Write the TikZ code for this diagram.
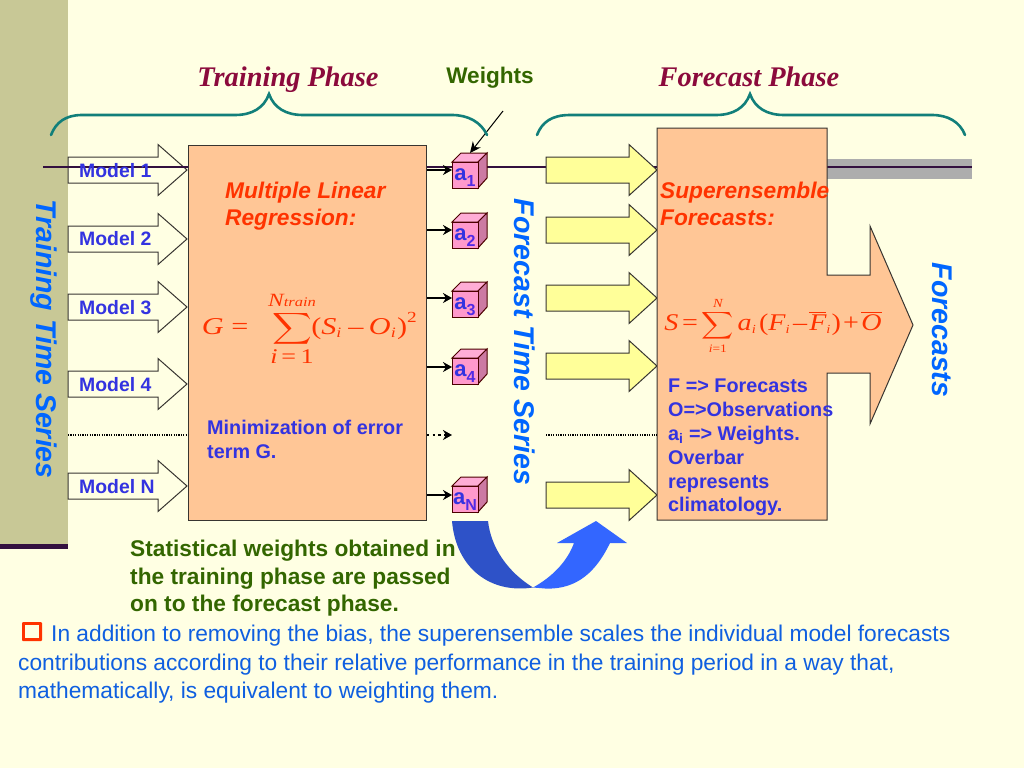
\documentclass[tikz,border=0pt]{standalone}
\usepackage{amsmath}
\usepackage{fontspec}
\setmainfont{Liberation Sans}
\newfontfamily\phasefont{Liberation Serif}
\usetikzlibrary{arrows.meta}
\definecolor{bgc}{HTML}{FFFFE3}
\definecolor{bandc}{HTML}{C8C896}
\definecolor{darkp}{HTML}{33103F}
\definecolor{teal2}{HTML}{127F7A}
\definecolor{peach}{HTML}{FFC696}
\definecolor{yell}{HTML}{FFFF99}
\definecolor{redo}{HTML}{FF3300}
\definecolor{indigo2}{HTML}{3333E0}
\definecolor{sky2}{HTML}{0066FF}
\definecolor{body2}{HTML}{0F5FE0}
\definecolor{green2}{HTML}{336600}
\definecolor{wine}{HTML}{8B0A3C}
\definecolor{pinkf}{HTML}{FF99CC}
\definecolor{pinkt}{HTML}{FFADD6}
\definecolor{pinks}{HTML}{CC7AA3}
\definecolor{blued}{HTML}{2E52C8}
\definecolor{bluel}{HTML}{3366FF}
\tikzset{
  x=1pt,y=-1pt,
  blockline/.style={draw=black!90!yellow,line width=1pt,line join=miter},
  sidetitle/.style={font=\fontsize{28.5}{32}\selectfont\bfseries\itshape,text=sky2,rotate=-90,inner sep=0},
  phase/.style={font=\fontsize{28.4}{32}\phasefont\bfseries\itshape,text=wine,inner sep=0,anchor=base},
  modellabel/.style={font=\fontsize{19.4}{22}\selectfont\bfseries,text=indigo2,anchor=west,inner sep=0},
  regtitle/.style={font=\fontsize{22.7}{27}\selectfont\bfseries\itshape,text=redo,anchor=north west,align=left,inner sep=0},
  bluenote/.style={font=\fontsize{19.8}{23.8}\selectfont\bfseries,text=indigo2,anchor=north west,align=left,inner sep=0},
  greennote/.style={font=\fontsize{22.7}{27.5}\selectfont\bfseries,text=green2,anchor=north west,align=left,inner sep=0},
  bodynote/.style={font=\fontsize{22.75}{28.6}\selectfont,text=body2,anchor=north west,align=left,inner sep=0},
  brace/.style={draw=teal2,line width=2.6pt,line cap=round},
  thickar/.style={draw=black,line width=2.2pt,-{Stealth[length=9pt,width=10pt]}},
  dotline/.style={draw=black,line width=1.2pt,dash pattern=on 1.2pt off 1.2pt},
  dotar/.style={draw=black,line width=2.2pt,dash pattern=on 2.2pt off 3.5pt,-{Stealth[length=9pt,width=10pt]}},
  cubefront/.style={draw=black!70!red,line width=1pt,fill=pinkf,minimum width=26pt,minimum height=26pt,inner sep=0,
    font=\fontsize{22}{24}\selectfont\bfseries,text=indigo2},
}
% block arrow: tail x, head-base x, tip x, centre y, fill
\newcommand{\blockarrow}[5]{%
  \draw[blockline,fill=#5] (#1,#4-13) -- (#2,#4-13) -- (#2,#4-25.5) -- (#3,#4) -- (#2,#4+25.5) -- (#2,#4+13) -- (#1,#4+13) -- cycle;}
% cube: name, top y, label
\newcommand{\cubebox}[3]{%
  \draw[draw=black!70!red,line width=1pt,fill=pinkt] (452,#2+9) -- (461,#2) -- (487,#2) -- (478,#2+9) -- cycle;
  \draw[draw=black!70!red,line width=1pt,fill=pinks] (478,#2+9) -- (487,#2) -- (487,#2+25) -- (478,#2+35) -- cycle;
  \node[cubefront] (#1) at (465,#2+22) {#3};}
\newcommand{\subl}[1]{\raisebox{-6pt}[0pt][0pt]{\fontsize{16}{16}\selectfont\color{indigo2!85!magenta}#1}}
% equation letters in a Times-like face
\newcommand{\eqi}[2]{\hbox{\fontsize{#1}{#1}\phasefont\itshape #2}}
\newcommand{\equ}[2]{\hbox{\fontsize{#1}{#1}\phasefont #2}}
\begin{document}
\begin{tikzpicture}
\useasboundingbox (0,0) rectangle (1024,768);
\fill[bgc] (0,0) rectangle (1024,768);
% left band
\fill[bandc] (0,0) rectangle (68,545);
\fill[darkp] (0,544) rectangle (68,548.5);
% grey band behind the line
\fill[black!32] (827,159) rectangle (972,179);
% white input arrows
\blockarrow{68}{158}{187}{170}{bgc}
\blockarrow{68}{158}{187}{239}{bgc}
\blockarrow{68}{158}{187}{307}{bgc}
\blockarrow{68}{158}{187}{384}{bgc}
\blockarrow{68}{158}{187}{486}{bgc}
% time line
\coordinate (lineL) at (43,167);
\coordinate (lineR) at (972,167);
\draw[darkp,line width=1.8pt] (lineL) -- (lineR);
% dotted
\coordinate (dotL) at (68,435);
\coordinate (dotM) at (546,435);
% training box
\node[draw=black!90!yellow,line width=1pt,fill=peach,minimum width=238pt,minimum height=375pt,inner sep=0,anchor=north west] (train) at (188,145) {};
\draw[dotline] (dotL) -- (train.west |- dotL);
% arrows out of the training box
\coordinate (in1) at (452,170);
\coordinate (in2) at (452,230);
\coordinate (in3) at (452,298);
\coordinate (in4) at (452,367);
\coordinate (in5) at (452,435);
\coordinate (in6) at (452,495);
\draw[thickar] (train.east |- in1) -- (in1);
\draw[thickar] (train.east |- in2) -- (in2);
\draw[thickar] (train.east |- in3) -- (in3);
\draw[thickar] (train.east |- in4) -- (in4);
\draw[dotar] (train.east |- in5) -- (in5);
\draw[thickar] (train.east |- in6) -- (in6);
% weight cubes
\cubebox{a1}{153}{a\subl{1}}
\cubebox{a2}{213}{a\subl{2}}
\cubebox{a3}{282}{a\subl{3}}
\cubebox{a4}{349}{a\subl{4}}
\cubebox{aN}{477}{a\subl{N}}
% weights pointer
\coordinate (wfrom) at (503,111);
\coordinate (wto) at (470,153);
\draw[black,line width=1pt,-{Stealth[length=11pt,width=10pt]}] (wfrom) -- (wto);
% yellow arrows
\blockarrow{546}{629}{657}{170}{yell}
\blockarrow{546}{629}{657}{230}{yell}
\blockarrow{546}{629}{657}{298}{yell}
\blockarrow{546}{629}{657}{366}{yell}
\blockarrow{546}{629}{657}{495}{yell}
% forecast box with output arrow
\draw[draw=black!90!yellow,line width=1pt,fill=peach,line join=miter]
  (657,128) -- (827,128) -- (827,275) -- (870,275) -- (870,226) -- (913,325)
  -- (870,424) -- (870,373) -- (827,373) -- (827,520) -- (657,520) -- cycle;
\coordinate (fbox) at (657,435);
\draw[dotline] (dotM) -- (fbox);
% braces
\draw[brace] (51,135) .. controls (56,122) and (66,115) .. (82,115) -- (235,115)
  .. controls (252,115) and (264,108) .. (269,94)
  .. controls (274,108) and (286,115) .. (303,115) -- (452,115)
  .. controls (468,115) and (481,122) .. (487,135);
\draw[brace] (537,135) .. controls (542,122) and (552,115) .. (570,115) -- (716,115)
  .. controls (733,115) and (745,108) .. (750,94)
  .. controls (755,108) and (767,115) .. (784,115) -- (932,115)
  .. controls (948,115) and (960,122) .. (965,135);
% titles
\node[phase] (tphase) at (288,86) {Training Phase};
\node[phase] (fphase) at (749,86) {Forecast Phase};
\node[font=\fontsize{22.6}{26}\selectfont\bfseries,text=green2,inner sep=0] (weights) at (490,78) {Weights};
% side titles
\node[sidetitle] (tts) at (44,339) {Training Time Series};
\node[sidetitle] (fts) at (525,342) {Forecast Time Series};
\node[sidetitle] (fc) at (942,330) {Forecasts};
% model labels
\node[modellabel] (m1) at (79,171) {Model 1};
\node[modellabel] (m2) at (79,239) {Model 2};
\node[modellabel] (m3) at (79,308) {Model 3};
\node[modellabel] (m4) at (79,385) {Model 4};
\node[modellabel] (mN) at (79,487) {Model N};
% box texts
\node[regtitle] (mlr) at (225,182) {Multiple Linear\\Regression:};
\node[regtitle] (sef) at (660,182) {Superensemble\\Forecasts:};
\node[text=redo,inner sep=0,xscale=2.75,yscale=2.2] (eqG) at (310,329)
  {$\displaystyle \eqi{11}{G}\;\equ{11}{=}\;\;\sum_{\eqi{9.5}{i}\,\equ{9.5}{=\,1}}^{\eqi{8.5}{N}\eqi{6}{train}}\!\!\equ{11}{(}\eqi{11}{S}_{\eqi{6.5}{i}}\hspace{2pt}\equ{11}{–}\hspace{2pt}\eqi{11}{O}_{\eqi{6.5}{i}}\equ{11}{)}^{\equ{7}{2}}$};
\node[text=redo,inner sep=0,xscale=2.23,yscale=1.9] (eqS) at (773,326)
  {$\displaystyle \eqi{12.6}{S}\,\equ{12.6}{=}\sum_{\eqi{6}{i}\equ{6}{=1}}^{\eqi{6.5}{N}}\eqi{12.6}{a}_{\eqi{6.5}{i}}\hspace{1pt}\equ{12.6}{(}\eqi{12.6}{F}_{\eqi{6.5}{i}}\hspace{1pt}\equ{12.6}{–}\hspace{1pt}\overline{\eqi{12.6}{F}}_{\eqi{6.5}{i}}\equ{12.6}{)}\hspace{1pt}\equ{12.6}{+}\hspace{1pt}\overline{\eqi{12.6}{O}}$};
\node[bluenote] (minim) at (207,420) {Minimization of error\\term G.};
\node[bluenote] (legend) at (668,379) {F => Forecasts\\O=>Observations\\a\textsubscript{i} => Weights.\\Overbar\\represents\\climatology.};
\node[greennote] (stat) at (130,540) {Statistical weights obtained in\\the training phase are passed\\on to the forecast phase.};
% curved transfer arrow
\fill[bluel] (533,587.5) .. controls (552,577) and (567,562) .. (574,543) -- (557,543) -- (596,521) -- (627,543) -- (610,543)
  .. controls (597,570) and (578,590) .. (545,588.5) -- cycle;
\fill[blued] (452,521) -- (488,521) .. controls (491,548) and (508,572) .. (533,587.5)
  .. controls (490,594) and (456,568) .. (452,521) -- cycle;
% bullet and body text
\fill[redo,rounded corners=1pt] (22,622) rectangle (42,641);
\fill[bgc] (24.5,624.5) rectangle (38.5,637.5);
\node[bodynote] (para) at (18,625) {\hspace*{33pt}In addition to removing the bias, the superensemble scales the individual model forecasts\\contributions according to their relative performance in the training period in a way that,\\mathematically, is equivalent to weighting them.};
\end{tikzpicture}
\end{document}
